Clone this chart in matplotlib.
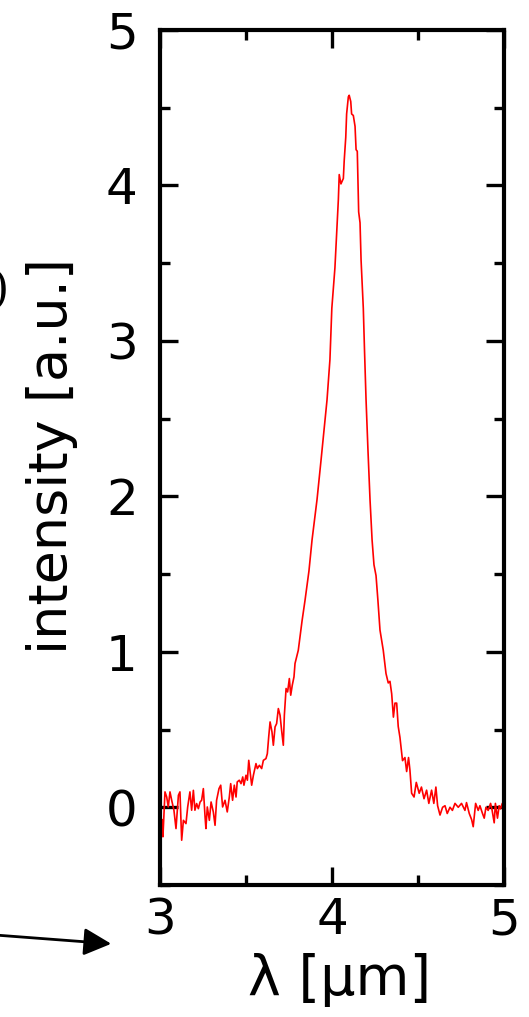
import numpy as np
import matplotlib
matplotlib.use("Agg")
import matplotlib.pyplot as plt
from matplotlib.ticker import MultipleLocator

# spectrum (wavelength in um, intensity in a.u.)
wavelength = [3.014, 3.017, 3.029, 3.039, 3.048, 3.058, 3.068, 3.081, 3.093, 3.107,
              3.116, 3.126, 3.136, 3.151, 3.161, 3.174, 3.184, 3.194, 3.203, 3.213,
              3.223, 3.233, 3.242, 3.252, 3.262, 3.267, 3.275, 3.287, 3.297, 3.31,
              3.32, 3.329, 3.343, 3.353, 3.364, 3.378, 3.391, 3.403, 3.411, 3.422,
              3.432, 3.442, 3.449, 3.461, 3.471, 3.481, 3.488, 3.5, 3.508, 3.516,
              3.533, 3.543, 3.558, 3.566, 3.578, 3.591, 3.601, 3.616, 3.624, 3.632,
              3.64, 3.651, 3.659, 3.669, 3.678, 3.688, 3.698, 3.707, 3.717, 3.723,
              3.733, 3.742, 3.752, 3.76, 3.769, 3.779, 3.785, 3.804, 3.826, 3.843,
              3.866, 3.884, 3.913, 3.936, 3.959, 3.971, 3.988, 3.999, 4.017, 4.037,
              4.042, 4.052, 4.066, 4.071, 4.08, 4.085, 4.095, 4.10, 4.109, 4.114,
              4.124, 4.134, 4.14, 4.147, 4.155, 4.163, 4.169, 4.182, 4.189, 4.198,
              4.209, 4.221, 4.233, 4.244, 4.256, 4.267, 4.279, 4.298, 4.314, 4.327,
              4.337, 4.347, 4.357, 4.366, 4.376, 4.385, 4.395, 4.41, 4.424, 4.434,
              4.445, 4.453, 4.463, 4.477, 4.49, 4.507, 4.52, 4.535, 4.55, 4.563,
              4.579, 4.592, 4.604, 4.614, 4.628, 4.643, 4.657, 4.67, 4.686, 4.70,
              4.715, 4.734, 4.753, 4.773, 4.782, 4.798, 4.812, 4.821, 4.835, 4.85,
              4.86, 4.875, 4.885, 4.895, 4.908, 4.922, 4.931, 4.943, 4.95, 4.962,
              4.972, 4.98, 4.99, 5.0]
intensity = [-0.08, -0.19, 0.099, 0.066, 0.002, 0.099, 0.045, -0.019, -0.137, 0.077,
             0.099, -0.212, -0.084, -0.105, 0.002, 0.099, -0.019, 0.109, -0.019, 0.024,
             -0.009, 0.034, 0.045, 0.120, -0.062, -0.137, 0.002, -0.084, 0.034, -0.030,
             -0.116, 0.045, 0.120, 0.142, 0.002, 0.045, -0.030, 0.066, 0.152, 0.045,
             0.142, 0.066, 0.163, 0.174, 0.152, 0.195, 0.142, 0.206, 0.174, 0.302,
             0.142, 0.206, 0.281, 0.249, 0.27, 0.249, 0.302, 0.313, 0.345, 0.453,
             0.549, 0.485, 0.399, 0.517, 0.538, 0.635, 0.592, 0.495, 0.399, 0.592,
             0.764, 0.742, 0.828, 0.721, 0.785, 0.839, 0.925, 1.01, 1.20, 1.33,
             1.52, 1.72, 1.98, 2.23, 2.49, 2.62, 2.88, 3.21, 3.47, 3.91,
             4.07, 4.01, 4.045, 4.16, 4.31, 4.46, 4.57, 4.58, 4.54, 4.46,
             4.45, 4.38, 4.23, 4.22, 3.83, 3.76, 3.52, 3.21, 2.94, 2.62,
             2.30, 1.98, 1.72, 1.56, 1.49, 1.33, 1.14, 1.01, 0.86, 0.80,
             0.81, 0.73, 0.58, 0.67, 0.67, 0.52, 0.45, 0.30, 0.32, 0.23,
             0.32, 0.24, 0.09, 0.066, 0.16, 0.09, 0.13, 0.055, 0.11, 0.025,
             0.11, 0.025, 0.13, 0.01, -0.05, 0.0, 0.01, -0.04, 0.0, -0.02,
             0.025, 0.0, 0.025, -0.02, 0.03, -0.04, -0.08, -0.125, 0.025, -0.02,
             0.01, -0.04, -0.07, 0.0, -0.02, 0.025, -0.02, -0.1, 0.025, -0.07,
             0.01, -0.01, 0.025, -0.03]

W, H = 529, 1017
fig = plt.figure(figsize=(W / 100, H / 100), dpi=100)
ax = fig.add_axes([160 / W, 1 - 885 / H, 344 / W, 855 / H])

ax.plot(wavelength, intensity, color="red", lw=1.2)

ax.set_xlim(3, 5)
ax.set_ylim(-0.5, 5)
ax.xaxis.set_major_locator(MultipleLocator(1))
ax.xaxis.set_minor_locator(MultipleLocator(0.5))
ax.yaxis.set_major_locator(MultipleLocator(1))
ax.yaxis.set_minor_locator(MultipleLocator(0.5))

for s in ax.spines.values():
    s.set_linewidth(3)
ax.tick_params(which="both", direction="in", top=True, right=True, width=2.4)
ax.tick_params(which="major", length=13, labelsize=36)
ax.tick_params(which="minor", length=7)
ax.tick_params(axis="x", which="major", pad=8)
ax.tick_params(axis="y", which="major", pad=16)

# axis titles placed where they sit in the picture
fig.text(340 / W, 1 - 980 / H, "λ [μm]", fontsize=40, ha="center", va="center")
fig.text(52 / W, 1 - 456 / H, "intensity [a.u.]", fontsize=39, rotation=90,
         ha="center", va="center")

# bits from the neighbouring panel
fig.text(9 / W, 1 - 290 / H, ")", fontsize=32, family="DejaVu Serif",
         ha="right", va="center")
ax.annotate("", xy=(114 / W, 1 - 944 / H), xycoords="figure fraction",
            xytext=(-5 / W, 1 - 935 / H), textcoords="figure fraction",
            arrowprops=dict(arrowstyle="-|>", lw=2, color="black", mutation_scale=42),
            annotation_clip=False)

fig.savefig("out.png", dpi=100)
